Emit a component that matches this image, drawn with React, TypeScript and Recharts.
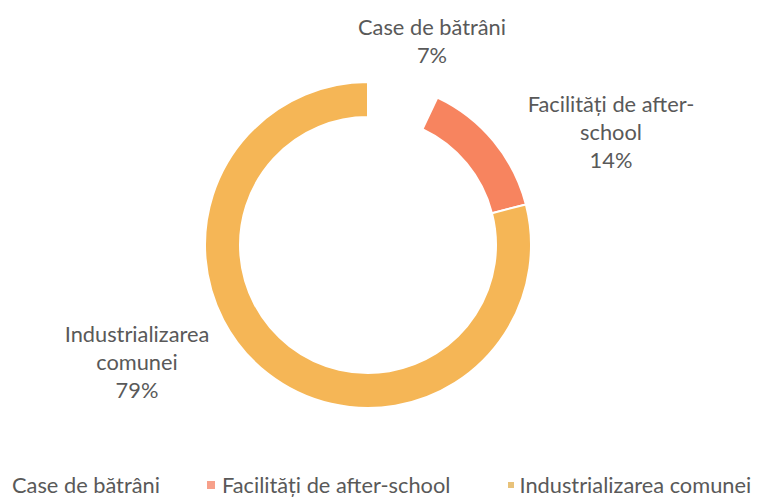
import React from "react";
import { PieChart, Pie, Cell, Legend } from "recharts";

const categories = ["Case de bătrâni", "Facilități de after-school", "Industrializarea comunei"];
const values = [7, 14, 79];
const labelLines = [["Case de bătrâni"], ["Facilități de after-", "school"], ["Industrializarea", "comunei"]];
const colors = ["#FFFFFF", "#F7845F", "#F5B656"];
const legendMarkerColors = ["#FFFFFF", "#F7A08A", "#E8C27A"];

const data = categories.map((name, i) => ({ name, value: values[i] }));

// label placement offsets from the pie centre (first-line baseline)
const labelOffsets = [
  { dx: 64, dy: -210 },
  { dx: 243, dy: -133 },
  { dx: -231, dy: 97 },
];

const TEXT = "#595959";
const FONT = "Lato, 'Open Sans', sans-serif";
const FS = 21.8;
const LINE = 28;

const renderLabel = (props: any) => {
  const { cx, cy, index, value } = props;
  const off = labelOffsets[index];
  const lines = [...labelLines[index], `${value}%`];
  return (
    <text
      x={cx + off.dx}
      y={cy + off.dy}
      textAnchor="middle"
      fill={TEXT}
      fontSize={FS}
      fontFamily={FONT}
    >
      {lines.map((l, k) => (
        <tspan key={k} x={cx + off.dx} dy={k === 0 ? 0 : LINE}>
          {l}
        </tspan>
      ))}
    </text>
  );
};

const legendGaps = [0, 47, 58];

const renderLegend = () => (
  <div
    style={{
      display: "flex",
      alignItems: "center",
      fontFamily: FONT,
      fontSize: FS,
      color: TEXT,
      whiteSpace: "nowrap",
      paddingLeft: 12,
    }}
  >
    {categories.map((c, i) => (
      <div key={c} style={{ display: "flex", alignItems: "center", marginLeft: legendGaps[i] }}>
        {i > 0 && (
          <span
            style={{
              display: "inline-block",
              width: i === 1 ? 8 : 6,
              height: i === 1 ? 8 : 6,
              background: legendMarkerColors[i],
              marginRight: i === 1 ? 7 : 5,
            }}
          />
        )}
        <span>{c}</span>
      </div>
    ))}
  </div>
);

export default function App() {
  return (
    <div style={{ position: "absolute", left: 0, top: 0, width: 760, height: 501, background: "#fff" }}>
      <PieChart width={760} height={501} margin={{ top: 0, right: 0, bottom: 0, left: 0 }}>
        <Pie
          data={data}
          dataKey="value"
          nameKey="name"
          cx={368}
          cy={245}
          innerRadius={128}
          outerRadius={163}
          startAngle={90}
          endAngle={-270}
          stroke="#FFFFFF"
          strokeWidth={2}
          label={renderLabel}
          labelLine={false}
          isAnimationActive={false}
        >
          {data.map((d, i) => (
            <Cell key={d.name} fill={colors[i]} />
          ))}
        </Pie>
        <Legend
          content={renderLegend}
          wrapperStyle={{ left: 0, top: 471, width: 760 }}
        />
      </PieChart>
    </div>
  );
}
